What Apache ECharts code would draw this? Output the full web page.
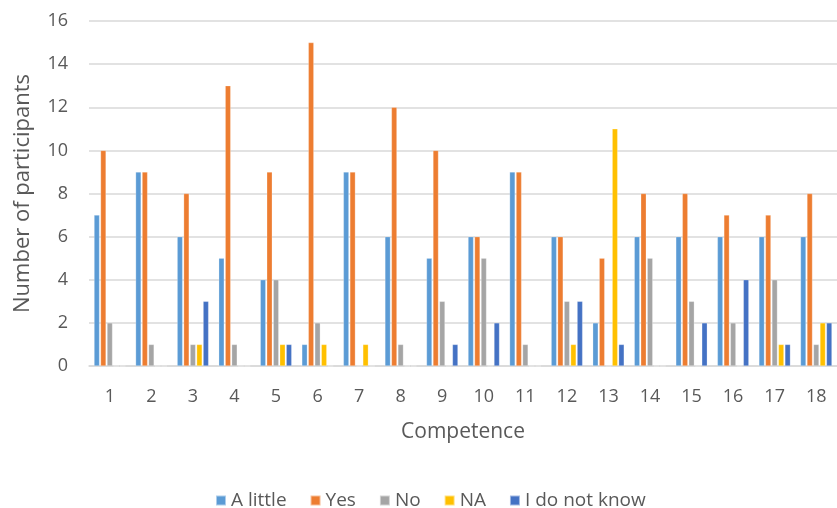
<!DOCTYPE html>
<html>
<head>
<meta charset="utf-8">
<script src="https://cdn.jsdelivr.net/npm/echarts@6/dist/echarts.min.js"></script>
<style>
html,body{margin:0;padding:0;background:#fff;}
#chart{width:837px;height:508px;}
</style>
</head>
<body>
<div id="chart"></div>
<script>
const categories = ['1','2','3','4','5','6','7','8','9','10','11','12','13','14','15','16','17','18'];
const aLittle = [7, 9, 6, 5, 4, 1, 9, 6, 5, 6, 9, 6, 2, 6, 6, 6, 6, 6];
const yes     = [10, 9, 8, 13, 9, 15, 9, 12, 10, 6, 9, 6, 5, 8, 8, 7, 7, 8];
const no      = [2, 1, 1, 1, 4, 2, 0, 1, 3, 5, 1, 3, 0, 5, 3, 2, 4, 1];
const na      = [0, 0, 1, 0, 1, 1, 1, 0, 0, 0, 0, 1, 11, 0, 0, 0, 1, 2];
const dontKnow= [0, 0, 3, 0, 1, 0, 0, 0, 1, 2, 0, 3, 1, 0, 2, 4, 1, 2];
const seriesNames = ['A little', 'Yes', 'No', 'NA', 'I do not know'];
const seriesData = [aLittle, yes, no, na, dontKnow];
const colors = ['#5B9BD5', '#ED7D31', '#A5A5A5', '#FFC000', '#4472C4'];
const yTicks = {min: 0, max: 16, interval: 2};

const font = "'Open Sans', 'Liberation Sans', sans-serif";
const chart = echarts.init(document.getElementById('chart'));
chart.setOption({
  animation: false,
  color: colors,
  grid: {left: 89, width: 756, top: 21, bottom: 142},
  legend: {
    top: 486, left: 210,
    itemWidth: 10, itemHeight: 10, itemGap: 23, icon: 'rect',
    textStyle: {color: '#595959', fontSize: 19, fontFamily: font},
    data: seriesNames
  },
  xAxis: {
    type: 'category', data: categories,
    name: 'Competence', nameLocation: 'middle', nameGap: 56,
    nameTextStyle: {color: '#595959', fontSize: 21, fontFamily: font},
    axisLine: {lineStyle: {color: '#d9d9d9', width: 1.5}},
    axisTick: {show: false},
    axisLabel: {color: '#595959', fontSize: 18, fontFamily: font, margin: 22}
  },
  yAxis: {
    type: 'value', min: yTicks.min, max: yTicks.max, interval: yTicks.interval,
    name: 'Number of participants', nameLocation: 'middle', nameGap: 55,
    nameTextStyle: {color: '#595959', fontSize: 22, fontFamily: font},
    axisLine: {show: false}, axisTick: {show: false},
    axisLabel: {color: '#595959', fontSize: 18, fontFamily: font, margin: 21},
    splitLine: {lineStyle: {color: '#d9d9d9', width: 1.5}}
  },
  series: seriesNames.map((n, i) => ({
    name: n, type: 'bar', data: seriesData[i],
    barWidth: 5.5, barGap: '18%',
    itemStyle: {color: colors[i], borderColor: 'rgba(255,255,255,0.5)', borderWidth: 0.5}
  }))
});
</script>
</body>
</html>
